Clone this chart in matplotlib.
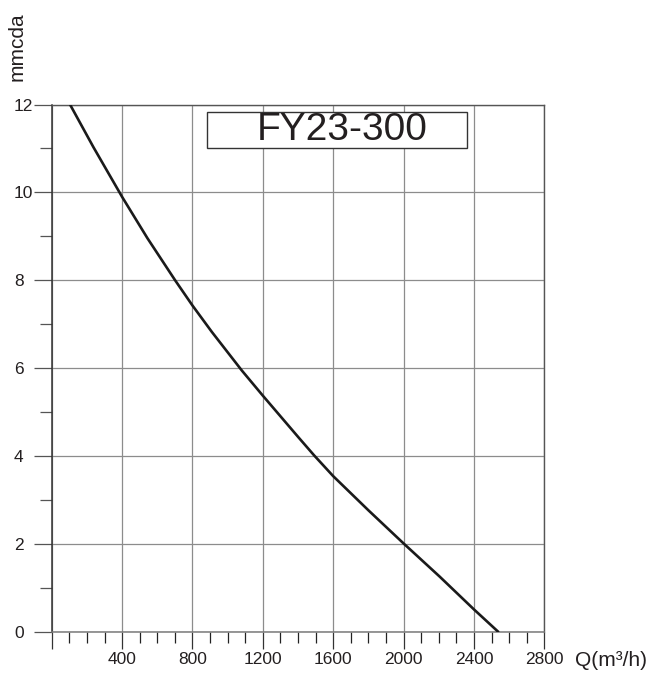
import matplotlib
matplotlib.use("Agg")
import matplotlib.pyplot as plt
from matplotlib.patches import Rectangle
from matplotlib.ticker import MultipleLocator

plt.rcParams['font.family'] = ['Liberation Sans', 'DejaVu Sans']

# Data
flow = [104, 237, 400, 544, 702, 800, 910, 1081, 1200, 1403, 1492, 1600,
        1801, 2000, 2204, 2400, 2541]
head = [12, 11.03, 9.90, 8.96, 8.0, 7.43, 6.83, 5.95, 5.38, 4.43, 4.02, 3.55,
        2.77, 2.02, 1.27, 0.52, 0]
x_ticks = [0, 400, 800, 1200, 1600, 2000, 2400, 2800]
x_labels = ["", "400", "800", "1200", "1600", "2000", "2400", "2800"]
y_ticks = [0, 2, 4, 6, 8, 10, 12]
y_labels = ["0", "2", "4", "6", "8", "10", "12"]
title = "FY23-300"
xlabel = "Q(m³/h)"
ylabel = "mmcda"

txt = "#231f20"

fig = plt.figure(figsize=(6.54, 6.73), dpi=100)
ax = fig.add_axes([0.0791, 0.0605, 0.7532, 0.7842])

ax.plot(flow, head, color="#1a1a1a", lw=1.9, solid_capstyle="butt",
        solid_joinstyle="round", zorder=3)

ax.set_xlim(0, 2800)
ax.set_ylim(0, 12)
ax.set_xticks(x_ticks)
ax.set_xticklabels(x_labels)
ax.set_yticks(y_ticks)
ax.set_yticklabels(y_labels)
ax.xaxis.set_minor_locator(MultipleLocator(100))
ax.yaxis.set_minor_locator(MultipleLocator(1))

ax.grid(True, which="major", color="#8c8c8c", lw=0.9, zorder=0)
ax.set_axisbelow(True)

ax.tick_params(axis="x", which="major", direction="out", length=12.5, width=0.9,
               color="#333333", pad=2.0, labelsize=12.5, labelcolor=txt)
ax.tick_params(axis="x", which="minor", direction="out", length=7.7, width=0.9,
               color="#222222")
ax.tick_params(axis="y", which="major", direction="out", length=13.2, width=0.9,
               color="#555555", pad=13.9, labelsize=12.5, labelcolor=txt)
ax.tick_params(axis="y", which="minor", direction="out", length=8.4, width=0.9,
               color="#555555")
for lab in ax.get_yticklabels():
    lab.set_horizontalalignment("left")

ax.spines["left"].set_color("#333333")
ax.spines["left"].set_linewidth(1.1)
ax.spines["bottom"].set_color("#7a7a7a")
ax.spines["bottom"].set_linewidth(1.1)
ax.spines["top"].set_color("#555555")
ax.spines["top"].set_linewidth(1.0)
ax.spines["right"].set_color("#555555")
ax.spines["right"].set_linewidth(1.0)

# Model box
ax.add_patch(Rectangle((0.316, 0.917), 0.528, 0.068, transform=ax.transAxes,
                       facecolor="white", edgecolor="#333333", lw=1.0, zorder=4))
ax.text(0.59, 0.951, title, transform=ax.transAxes, ha="center", va="center",
        fontsize=28, color=txt, zorder=5)

fig.text(17.5 / 654, 1 - 46.5 / 673, ylabel, rotation=90, ha="center", va="center",
         fontsize=15, color=txt)
fig.text(575 / 654, 1 - 661 / 673, xlabel, ha="left", va="center",
         fontsize=15, color=txt)

fig.savefig("out.png", dpi=100, facecolor="white")
